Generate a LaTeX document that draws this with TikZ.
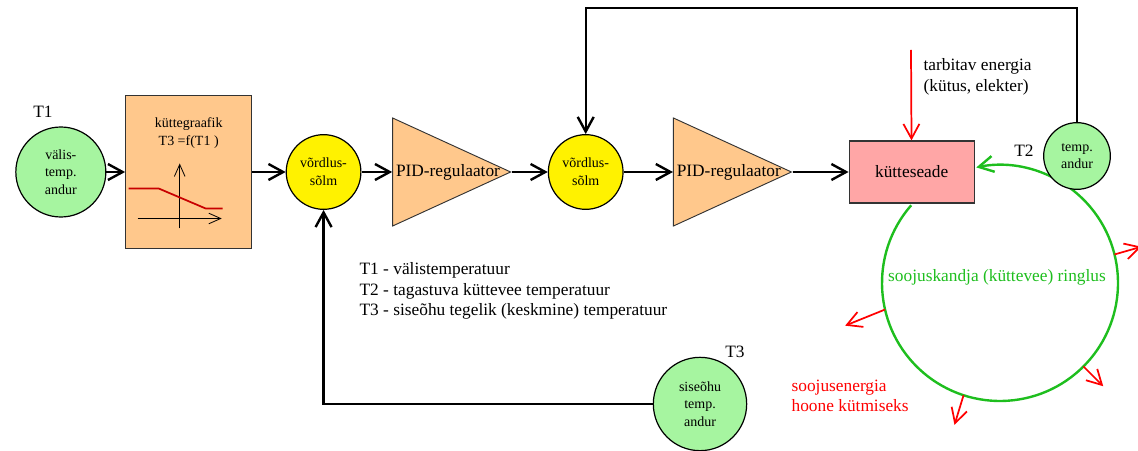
\documentclass[tikz,border=0pt]{standalone}
\usepackage{fontspec}
\setmainfont{Liberation Serif}
\usetikzlibrary{matrix,chains,scopes,arrows.meta,shapes.geometric}
\definecolor{sensorgreen}{RGB}{166,245,160}
\definecolor{pidorange}{RGB}{255,200,140}
\definecolor{heaterpink}{RGB}{255,166,166}
\definecolor{loopgreen}{RGB}{30,190,30}
\definecolor{curvered}{RGB}{200,0,0}
\newcommand\labelsmall{\fontsize{10.5}{13.2}\selectfont}
\newcommand\labelnormal{\fontsize{13}{15.3}\selectfont}
\tikzset{
  sensor/.style={
    % The shape:
    circle,
    % The size:
    minimum size=#1,
    inner sep=0pt,
    % The border:
    line width=0.9pt,
    draw=black,
    % The filling:
    fill=sensorgreen,
    align=center,font=\labelsmall},
  sensor/.default=50pt,
  comparator/.style={
    % The shape:
    circle,
    minimum size=56pt,inner sep=0pt,
    % The rest
    line width=0.9pt,draw=black,fill=yellow,
    align=center,font=\labelsmall},
  controller/.style={
    % The shape:
    isosceles triangle,
    isosceles triangle stretches,
    minimum width=81pt,minimum height=88.5pt,inner sep=0pt,
    % The rest
    line width=0.7pt,draw=black!80,fill=pidorange},
  graphbox/.style={
    % The shape:
    rectangle,
    minimum width=94.5pt,minimum height=114.75pt,
    % The rest
    line width=0.9pt,draw=black!80,fill=pidorange},
  heaterbox/.style={
    % The shape:
    rectangle,
    minimum width=93.75pt,minimum height=46.5pt,
    % The rest
    line width=0.9pt,draw=black!80,fill=heaterpink,
    font=\labelnormal}
}

\begin{document}
\begin{tikzpicture}[x=0.75pt,y=0.75pt,>={Straight Barb[length=11pt,width=12pt]},
                    line width=1.8pt,
                    tip/.style={->},
                    axis/.style={line width=0.6pt,-{Straight Barb[length=9pt,width=8pt]}},
                    heat/.style={red,line width=1.3pt,->},
                    circulation/.style={loopgreen,line width=1.8pt,->},
                    hv path/.style={to path={-| (\tikztotarget)}},
                    skip loop/.style={to path={-- ++(0,#1) -| (\tikztotarget)}}]
  \useasboundingbox (0,0) rectangle (1138,450);

  \matrix[ampersand replacement=\&,column sep=0pt] at (495,278) {
    \node (sensor1) [sensor=67.5pt]  {välis-\\temp.\\andur};                \&[14pt]
    \node (graph)   [graphbox,
      label={[anchor=north,yshift=-13pt,align=center,font=\labelsmall]north:{küttegraafik\\T3 =f(T1 )}}] {}; \&[25pt]
    \node (sum1)    [comparator]     {võrdlus-\\sõlm};                      \&[23pt]
    \node (pid1)    [controller,
      label={[anchor=west,inner sep=2pt,font=\labelnormal]west:PID-regulaator}] {}; \&[27.5pt]
    \node (sum2)    [comparator]     {võrdlus-\\sõlm};                      \&[37pt]
    \node (pid2)    [controller,
      label={[anchor=west,inner sep=2pt,font=\labelnormal]west:PID-regulaator}] {}; \&[42.5pt]
    \node (heater)  [heaterbox]      {kütteseade};                          \\
  };

  \begin{scope}[start chain]
    \chainin (sensor1);
    \chainin (graph)   [join=by tip];
    \chainin (sum1)    [join=by tip];
    \chainin (pid1)    [join=by tip];
    \chainin (sum2)    [join=by tip];
    \chainin (pid2)    [join=by tip];
    \chainin (heater)  [join=by tip];
  \end{scope}

  % the curve inside the box
  \begin{scope}[shift={(graph.center)}]
    \draw[axis] (-9,-56.5) -- (-9,8.5);
    \draw[axis] (-51,-46.5) -- (33,-46.5);
    \draw[curvered,line width=1.3pt] (-60,-16.5) -- (-30,-16.5) -- (17,-36.5) -- (34,-36.5);
  \end{scope}

  % energy in
  \coordinate (fuel) at (911,400);
  \draw[tip,red,line width=1.3pt] (fuel) -- (heater);
  \node (fuellabel) [anchor=west,align=left,font=\labelnormal] at (918,373) {tarbitav energia\\(kütus, elekter)};

  % circulation
  \coordinate (loop) at (1000,167);
  \draw[circulation] (loop) ++(138.8:118) arc[start angle=138.8,end angle=461.6,radius=88.5pt];
  \foreach \a/\d/\l in {193/202/43, 14/16/28, -45/-45/28, -108/-107/31}
    \draw[heat] (loop) ++(\a:118) -- ++(\d:\l);
  \node (looplabel) [text=loopgreen,font=\labelnormal] at (997,173) {soojuskandja (küttevee) ringlus};
  \node (heatlabel) [anchor=west,align=left,text=red,font=\labelnormal] at (786,54) {soojusenergia\\hoone kütmiseks};

  % sensors with feedback
  \node (sensor2) [sensor=50pt] at (1077,294) {temp.\\andur};
  \draw[tip] (sensor2) to[skip loop=148] (sum2);
  \node (sensor3) [sensor=70pt] at (700,46) {siseõhu\\temp.\\andur};
  \draw[tip] (sensor3) to[hv path] (sum1);

  \node (t1) [font=\labelnormal] at (43,338) {T1};
  \node (t2) [font=\labelnormal] at (1024,299) {T2};
  \node (t3) [font=\labelnormal] at (735,98) {T3};

  \node (legend) [anchor=west,align=left,font=\labelnormal] at (354,159)
    {T1 - välistemperatuur\\T2 - tagastuva küttevee temperatuur\\T3 - siseõhu tegelik (keskmine) temperatuur};
\end{tikzpicture}
\end{document}
